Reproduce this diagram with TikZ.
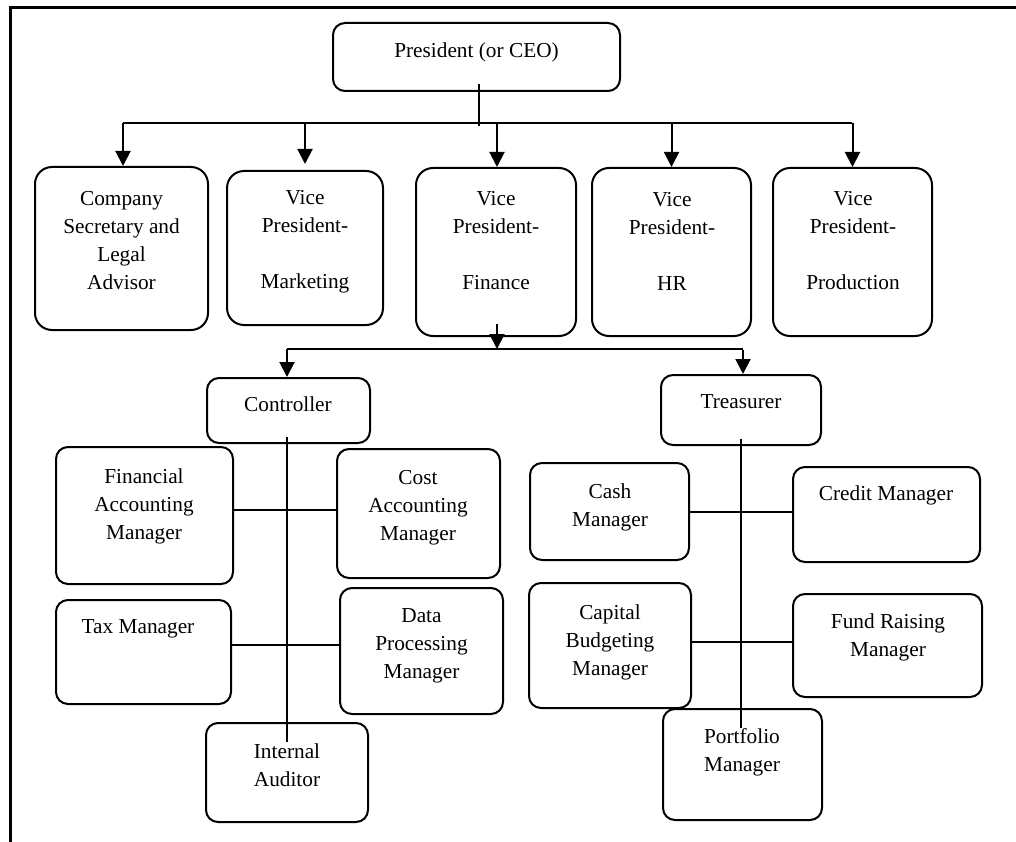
\documentclass[tikz,border=0pt]{standalone}
\usepackage{fontspec}
\setmainfont{Liberation Serif}
\usepackage{tikz}
\usetikzlibrary{positioning,arrows.meta}

\begin{document}
\begin{tikzpicture}[
		x=1pt, y=-1pt,
		unit/.style = {draw, line width=2pt, rounded corners=17pt, inner sep=0pt},
		post/.style = {unit, rounded corners=12pt},
		txt/.style = {align=center, inner sep=0pt, font=\fontsize{21.3}{28}\selectfont},
		arr/.style = {line width=2pt, -{Triangle[length=15pt, width=15pt]}},
		link/.style = {line width=2pt}
	]
	\useasboundingbox (0,0) rectangle (1016,842);
	% Frame.
	\draw[line width=3pt] (10,842) -- (10,8) -- (1016,8);

	% Top.
	\node[post, minimum width=287pt, minimum height=68pt] (pres) at (476.5,57) {};
	\node[txt] (pres-t) at (476.5,52) {President (or CEO)};

	% Level 1.
	\node[unit, minimum width=173pt, minimum height=163pt] (csec) at (121.5,248.5) {};
	\node[unit, minimum width=156pt, minimum height=154pt] (vpm) at (305,248) {};
	\node[unit, minimum width=160pt, minimum height=168pt] (vpf) at (496,252) {};
	\node[unit, minimum width=159pt, minimum height=168pt] (vph) at (671.5,252) {};
	\node[unit, minimum width=159pt, minimum height=168pt] (vpp) at (852.5,252) {};
	\node[txt] (csec-t) at (121.5,241) {Company\\Secretary and\\Legal\\Advisor};
	\node[txt] (vpm-t) at (305,242) {Vice\\President-\\[28pt]Marketing};
	\node[txt] (vpf-t) at (496,241) {Vice\\President-\\[28pt]Finance};
	\node[txt] (vph-t) at (672,241) {Vice\\President-\\[28pt]HR};
	\node[txt] (vpp-t) at (853,241) {Vice\\President-\\[28pt]Production};

	% Level 2.
	\node[post, minimum width=163pt, minimum height=65pt] (ctrl) at (288.5,410.5) {};
	\node[post, minimum width=160pt, minimum height=70pt] (tres) at (741,410) {};
	\node[txt] (ctrl-t) at (288,404) {Controller};
	\node[txt] (tres-t) at (741,402) {Treasurer};

	% Level 3, controller side.
	\node[post, minimum width=177pt, minimum height=137pt] (fam) at (144.5,515.5) {};
	\node[post, minimum width=163pt, minimum height=129pt] (cam) at (418.5,513.5) {};
	\node[post, minimum width=175pt, minimum height=104pt] (tax) at (143.5,652) {};
	\node[post, minimum width=163pt, minimum height=126pt] (dpm) at (421.5,651) {};
	\node[post, minimum width=162pt, minimum height=99pt] (iaud) at (287,772.5) {};
	\node[txt] (fam-t) at (144,506) {Financial\\Accounting\\Manager};
	\node[txt] (cam-t) at (418,507.5) {Cost\\Accounting\\Manager};
	\node[txt] (tax-t) at (138,629) {Tax Manager};
	\node[txt] (dpm-t) at (421.5,646) {Data\\Processing\\Manager};
	\node[txt] (iaud-t) at (287,765) {Internal\\Auditor};

	% Level 3, treasurer side.
	\node[post, minimum width=159pt, minimum height=97pt] (cash) at (609.5,511.5) {};
	\node[post, minimum width=187pt, minimum height=95pt] (cred) at (886.5,514.5) {};
	\node[post, minimum width=162pt, minimum height=125pt] (cbm) at (610,645.5) {};
	\node[post, minimum width=189pt, minimum height=103pt] (frm) at (887.5,645.5) {};
	\node[post, minimum width=159pt, minimum height=111pt] (port) at (742.5,764.5) {};
	\node[txt] (cash-t) at (610,507) {Cash\\Manager};
	\node[txt] (cred-t) at (886,495) {Credit Manager};
	\node[txt] (cbm-t) at (610,642) {Capital\\Budgeting\\Manager};
	\node[txt] (frm-t) at (888,637.5) {Fund Raising\\Manager};
	\node[txt] (port-t) at (742,752) {Portfolio\\Manager};

	\coordinate (bus1w) at (123,123);
	\coordinate (bus1e) at (852,123);
	\coordinate (bus1s) at (479,126);
	\coordinate (bus2w) at (287,349);
	\coordinate (bus2e) at (743,349);

	\draw[link] ([xshift=2.5pt, yshift=8pt]pres.south) -- (bus1s);
	\draw[link] (bus1w) -- (bus1e);
	\draw[arr] (bus1w) -- (bus1w |- csec.north);
	\draw[arr] (vpm.north |- bus1w) -- ([yshift=6pt]vpm.north);
	\draw[arr] ([xshift=1pt]vpf.north |- bus1w) -- ([xshift=1pt]vpf.north);
	\draw[arr] (vph.north |- bus1w) -- (vph.north);
	\draw[arr] (vpp.north |- bus1w) -- (vpp.north);

	\draw[arr] ([xshift=1pt, yshift=13pt]vpf.south) -- ([xshift=1pt]vpf.south |- bus2w);
	\draw[link] (bus2w) -- (bus2e);
	\draw[arr] (bus2w) -- (bus2w |- ctrl.north);
	\draw[arr] ([yshift=-1pt]bus2e) -- (bus2e |- tres.north);

	\draw[link] ([xshift=-1.5pt, yshift=7pt]ctrl.south) -- ([xshift=-1.5pt, yshift=-20pt]ctrl.south |- iaud.north);
	\draw[link] ([yshift=6pt]fam.east) -- ([yshift=6pt]fam.east -| cam.west);
	\draw[link] ([yshift=7pt]tax.east) -- ([yshift=7pt]tax.east -| dpm.west);

	\draw[link] ([yshift=7pt]tres.south) -- ([yshift=-20pt]tres.south |- port.north);
	\draw[link] (cash.east) -- (cash.east -| cred.west);
	\draw[link] ([yshift=3.5pt]cbm.east) -- ([yshift=3.5pt]cbm.east -| frm.west);
\end{tikzpicture}
\end{document}
